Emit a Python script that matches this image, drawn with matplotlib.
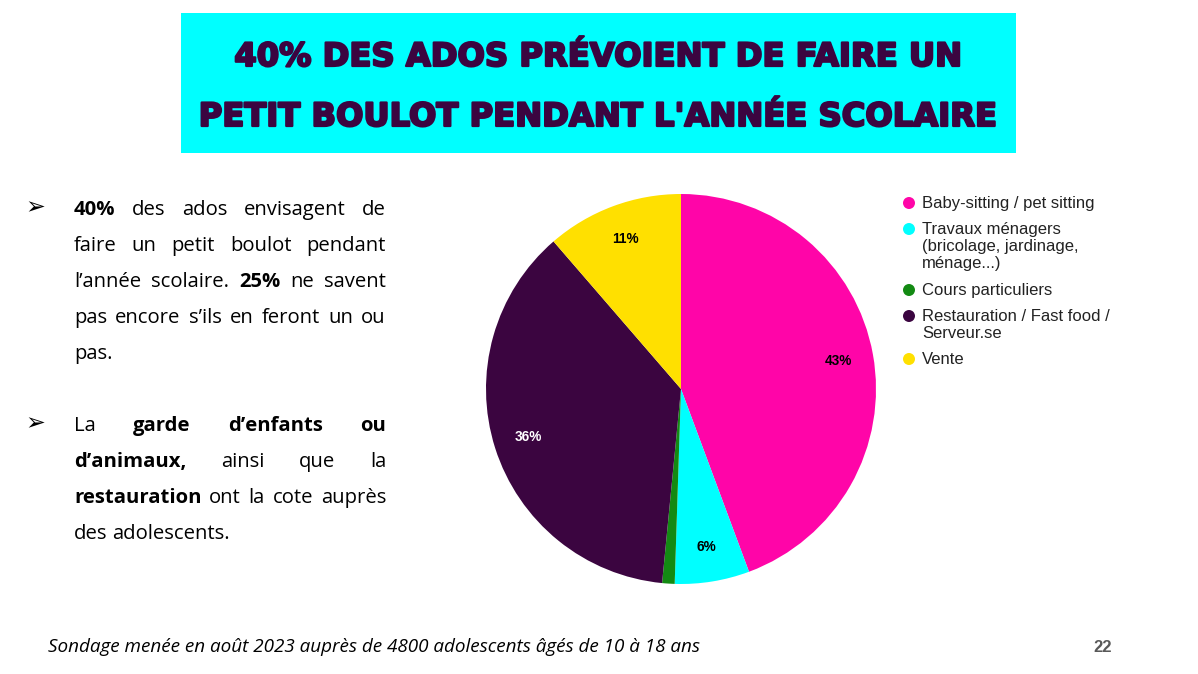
import matplotlib
matplotlib.use("Agg")
import matplotlib.pyplot as plt
from matplotlib.patches import Rectangle, Ellipse
import matplotlib.patheffects as pe
import numpy as np

# ---- data ----
categories = ["Baby-sitting / pet sitting",
              "Travaux ménagers\n(bricolage, jardinage,\nménage...)",
              "Cours particuliers",
              "Restauration / Fast food /\nServeur.se",
              "Vente"]
values = [43, 6, 1, 36, 11]
slice_labels = ["43%", "6%", "", "36%", "11%"]
colors = ["#FF05A8", "#00FFFF", "#138A13", "#3B0540", "#FFE000"]
label_colors = ["black", "black", "black", "white", "black"]

title_lines = ["40% DES ADOS PRÉVOIENT DE FAIRE UN",
               "PETIT BOULOT PENDANT L'ANNÉE SCOLAIRE"]

# (words with bold flags, justified?)
para1 = [
    ([("40%", True), ("des", False), ("ados", False), ("envisagent", False), ("de", False)], True),
    ([("faire", False), ("un", False), ("petit", False), ("boulot", False), ("pendant", False)], True),
    ([("l’année", False), ("scolaire.", False), ("25%", True), ("ne", False), ("savent", False)], True),
    ([("pas", False), ("encore", False), ("s’ils", False), ("en", False), ("feront", False), ("un", False), ("ou", False)], True),
    ([("pas.", False)], False),
]
para2 = [
    ([("La", False), ("garde", True), ("d’enfants", True), ("ou", True)], True),
    ([("d’animaux,", True), ("ainsi", False), ("que", False), ("la", False)], True),
    ([("restauration", True), ("ont", False), ("la", False), ("cote", False), ("auprès", False)], True),
    ([("des", False), ("adolescents.", False)], False),
]
footer = "Sondage menée en août 2023 auprès de 4800 adolescents âgés de 10 à 18 ans"
page_number = "22"

W, H = 1198, 674
fig = plt.figure(figsize=(W / 100, H / 100), dpi=100)
fig.patch.set_facecolor("white")
renderer = fig.canvas.get_renderer()

def fx(px):
    return px / W

def fy(py):
    return 1 - py / H

# title box
fig.patches.append(Rectangle((fx(181), fy(153)), (1016 - 181) / W, (153 - 13) / H,
                             transform=fig.transFigure, facecolor="#00FFFF",
                             edgecolor="none", zorder=0))
title_color = "#3B0540"
for line, base in zip(title_lines, [66, 126]):
    fig.text(fx(599), fy(base), line, ha="center", va="baseline",
             fontsize=23.2, fontweight="bold", family="DejaVu Sans", color=title_color,
             path_effects=[pe.withStroke(linewidth=1.6, foreground=title_color)])

# justified body text
body_font = "Open Sans"
body_size = 14.6
left_px, right_px = 74, 386

def draw_line(words, justify, base_y):
    texts = []
    widths = []
    for w, b in words:
        t = fig.text(0, fy(base_y), w, ha="left", va="baseline", fontsize=body_size,
                     family=body_font, fontweight="bold" if b else "normal", color="black")
        texts.append(t)
        widths.append(t.get_window_extent(renderer).width)
    if justify and len(words) > 1:
        gap = (right_px - left_px - sum(widths)) / (len(words) - 1)
    else:
        gap = 5.0
    x = left_px
    for t, wd in zip(texts, widths):
        t.set_x(fx(x))
        x += wd + gap

for start, para in [(215, para1), (431, para2)]:
    fig.text(fx(25), fy(start - 1), "➢", ha="left", va="baseline", fontsize=17,
             family=["DejaVu Sans"], color="black")
    y = start
    for words, just in para:
        draw_line(words, just, y)
        y += 36

# pie
cx, cy, r = 681, 389, 195
ax = fig.add_axes([fx(cx - r), fy(cy + r), 2 * r / W, 2 * r / H])
ax.pie(values, colors=colors, startangle=90, counterclock=False,
       radius=1, wedgeprops=dict(linewidth=0))
total = sum(values)
ang = 90.0
for v, lab, lc in zip(values, slice_labels, label_colors):
    sweep = 360.0 * v / total
    mid = np.deg2rad(ang - sweep / 2)
    ang -= sweep
    if lab:
        ax.text(0.82 * np.cos(mid), 0.82 * np.sin(mid), lab, ha="center", va="center",
                fontsize=9.8, fontweight="bold", family="Liberation Sans", color=lc)
ax.set_xlim(-1, 1)
ax.set_ylim(-1, 1)
ax.set_aspect("equal")
ax.axis("off")

# legend
leg_y = [203, 229, 290, 316, 359]
for c, lab, yy in zip(colors, categories, leg_y):
    fig.patches.append(Ellipse((fx(909), fy(yy)), 12 / W, 12 / H,
                               transform=fig.transFigure,
                               facecolor=c, edgecolor="none"))
    fig.text(fx(922), fy(yy - 7), lab, ha="left", va="top", fontsize=12,
             family="Liberation Sans", color="#222222", linespacing=1.15)

# footer
fig.text(fx(48), fy(652), footer, ha="left", va="baseline", fontsize=13.6,
         style="italic", family="Open Sans", color="black")
fig.text(fx(1112), fy(652), page_number, ha="right", va="baseline", fontsize=12,
         fontweight="bold", family="Liberation Sans", color="#595959")

fig.savefig("out.png", dpi=100)
